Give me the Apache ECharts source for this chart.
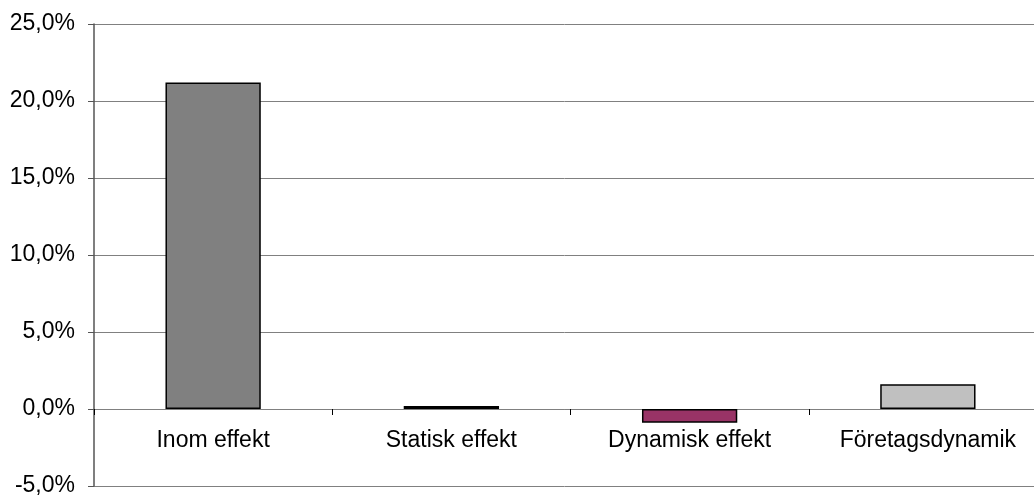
<!DOCTYPE html>
<html><head><meta charset="utf-8">
<script src="https://cdn.jsdelivr.net/npm/echarts@6/dist/echarts.min.js"></script>
<style>html,body{margin:0;padding:0;background:#fff}#c{width:1034px;height:496px}</style>
</head><body><div id="c"></div>
<script>
const categories = ["Inom effekt", "Statisk effekt", "Dynamisk effekt", "Företagsdynamik"];
const values = [21.2, 0.2, -0.9, 1.6];
const barColors = ["#808080", "#000080", "#993366", "#C0C0C0"];
const yMin = -5, yMax = 25, yStep = 5;

const gridTop = 24, gridBottomY = 486;
const zeroOffset = Math.round((gridBottomY - gridTop) * (0 - yMin) / (yMax - yMin));

const chart = echarts.init(document.getElementById('c'), null, {renderer: 'canvas'});
chart.setOption({
  animation: false,
  backgroundColor: '#ffffff',
  grid: {left: 94, top: gridTop, right: -13, bottom: 496 - gridBottomY, containLabel: false, outerBoundsMode: 'none'},
  xAxis: {
    type: 'category',
    data: categories,
    position: 'bottom',
    offset: -zeroOffset,
    axisLine: {onZero: false, lineStyle: {color: '#808080', width: 1}},
    axisTick: {show: true, alignWithLabel: false, interval: 0, length: 6, lineStyle: {color: '#000'}},
    axisLabel: {color: '#000', fontFamily: 'Liberation Sans, Arial', fontSize: 23, margin: 20, interval: 0},
    splitLine: {show: false}
  },
  yAxis: {
    type: 'value',
    min: yMin, max: yMax, interval: yStep,
    axisLine: {show: true, onZero: false, lineStyle: {color: '#555555', width: 1.5}},
    axisTick: {show: true, length: 6, lineStyle: {color: '#555555'}},
    axisLabel: {color: '#000', fontFamily: 'Liberation Sans, Arial', fontSize: 23, margin: 19,
      formatter: v => v.toFixed(1).replace('.', ',') + '%'},
    splitLine: {show: true, lineStyle: {color: '#808080', width: 1}}
  },
  series: [{
    type: 'bar',
    barWidth: '40%',
    data: values.map((v, i) => ({value: v, itemStyle: {color: barColors[i]}})),
    itemStyle: {borderColor: '#000', borderWidth: 1.5}
  }]
});
</script></body></html>
